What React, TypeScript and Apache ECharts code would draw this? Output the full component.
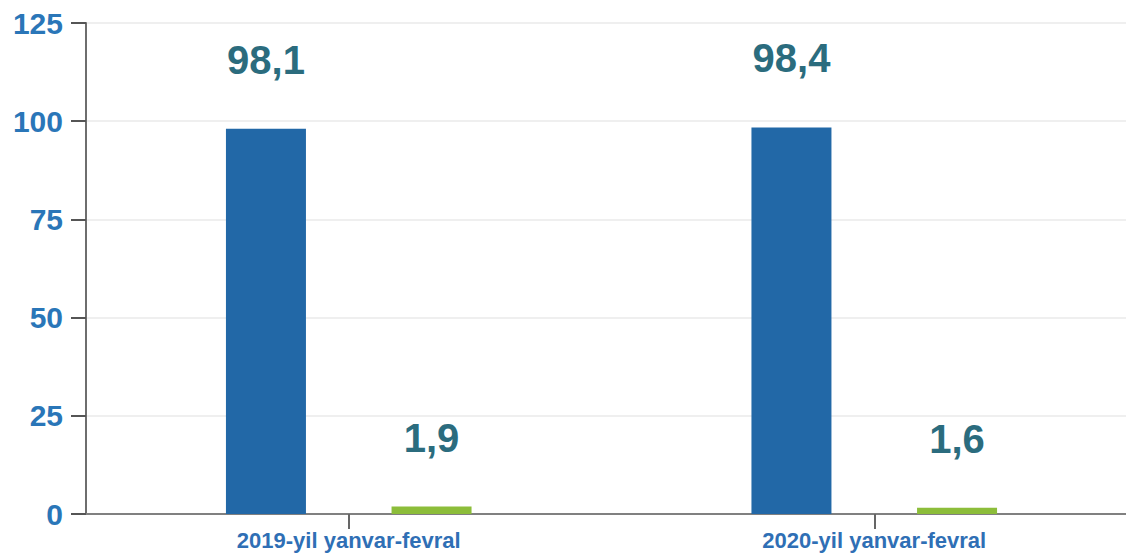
import React, { useEffect, useRef } from "react";
import * as echarts from "echarts";

const categories = ["2019-yil yanvar-fevral", "2020-yil yanvar-fevral"];
const blueValues = [98.1, 98.4];
const greenValues = [1.9, 1.6];
const yTicks = { min: 0, max: 125, interval: 25 };

const FONT = "Arial, 'Liberation Sans', sans-serif";

export default function App() {
  const ref = useRef<HTMLDivElement>(null);
  useEffect(() => {
    if (!ref.current) return;
    const chart = echarts.init(ref.current, undefined, { renderer: "svg" });
    const labelCfg = {
      show: true,
      position: "top",
      distance: 49,
      fontSize: 40,
      fontWeight: "bold",
      fontFamily: FONT,
      color: "#2b6c7e",
      formatter: (p: any) => String(p.value).replace(".", ","),
    };
    chart.setOption({
      animation: false,
      backgroundColor: "#ffffff",
      grid: { left: 86, right: 3, top: 23, bottom: 39, containLabel: false },
      xAxis: {
        type: "category",
        data: categories,
        boundaryGap: true,
        axisLine: { show: true, lineStyle: { color: "#808080", width: 2 } },
        axisTick: { show: true, alignWithLabel: true, length: 15, lineStyle: { color: "#666666", width: 2 } },
        axisLabel: {
          margin: 15,
          fontSize: 22,
          fontWeight: "bold",
          fontFamily: FONT,
          color: "#2f6fb5",
        },
        splitLine: { show: false },
      },
      yAxis: {
        type: "value",
        min: yTicks.min,
        max: yTicks.max,
        interval: yTicks.interval,
        axisLine: { show: true, lineStyle: { color: "#6e6e6e", width: 2 } },
        axisTick: { show: true, length: 15, lineStyle: { color: "#555555", width: 2 } },
        axisLabel: {
          margin: 23,
          fontSize: 30,
          fontWeight: "bold",
          fontFamily: FONT,
          color: "#2a76b8",
        },
        splitLine: { show: true, lineStyle: { color: "#efefef", width: 2 } },
      },
      series: [
        {
          type: "bar",
          data: blueValues,
          barWidth: 80,
          barGap: "107%",
          itemStyle: { color: "#2268a7" },
          label: labelCfg,
        },
        {
          type: "bar",
          data: greenValues,
          barWidth: 80,
          itemStyle: { color: "#8cbd3a" },
          label: labelCfg,
        },
      ],
    });
    return () => chart.dispose();
  }, []);
  return (
    <div style={{ position: "fixed", left: 0, top: 0, width: 1126, height: 553, overflow: "hidden", background: "#fff" }}>
      <div ref={ref} style={{ width: 1140, height: 553 }} />
    </div>
  );
}
